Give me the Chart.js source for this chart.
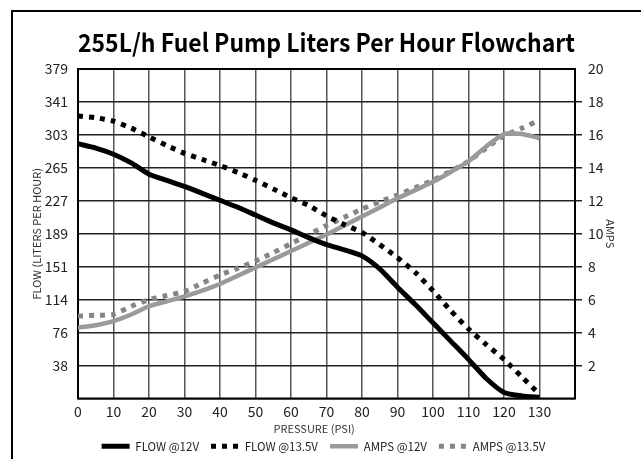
<!DOCTYPE html>
<html><head><meta charset="utf-8">
<script src="https://cdn.jsdelivr.net/npm/chart.js@4.4.1/dist/chart.umd.min.js"></script>
<style>html,body{margin:0;padding:0;background:#fff;overflow:hidden;}</style>
</head><body>
<canvas id="c" width="641" height="459"></canvas>
<script>
const titleText = '255L/h Fuel Pump Liters Per Hour Flowchart';
const pressure = [0,5,10,15,20,25,30,35,40,45,50,55,60,65,70,75,80,85,90,95,100,105,110,115,120,125,130];
const flow12  = [293,288,281,271,258,251,244,236,228,220,211,202,194,185,177,171,164,149,128,108,87,66,45,23,7,3,1.5];
const flow135 = [325,323,319,311,301,291,282,275,268,260,251,241,231,222,210,200,191,177,162,145,124,101,80,62,45,25,5];
const amps12  = [4.3,4.45,4.7,5.1,5.6,5.9,6.2,6.55,6.95,7.45,7.95,8.45,8.95,9.45,9.95,10.5,11.05,11.6,12.15,12.65,13.15,13.75,14.4,15.3,16.05,16.05,15.8];
const amps135 = [5.0,5.05,5.1,5.6,6.0,6.25,6.5,7.0,7.5,7.9,8.35,8.85,9.4,9.95,10.5,11.0,11.5,11.95,12.35,12.8,13.25,13.8,14.4,15.2,15.95,16.4,16.9];
const flowTickValues = [37.9,75.8,113.7,151.6,189.5,227.4,265.3,303.2,341.1,379];
const flowTickLabels = ['38','76','114','151','189','227','265','303','341','379'];
const seriesLabels = ['FLOW @12V','FLOW @13.5V','AMPS @12V','AMPS @13.5V'];

const FONT = '"Noto Sans CJK JP", "Noto Sans", sans-serif';
const pts = arr => pressure.map((p,i)=>({x:p,y:arr[i]}));

const framePlugin = {
  id:'frame',
  beforeDraw(chart){
    const c = chart.ctx; c.save();
    c.fillStyle = '#fff'; c.fillRect(0,0,chart.width,chart.height);
    c.strokeStyle = '#000'; c.lineWidth = 2;
    c.beginPath(); c.moveTo(12,chart.height); c.lineTo(12,11); c.lineTo(chart.width,11); c.stroke();
    c.restore();
  },
  beforeDatasetsDraw(chart){
    const a = chart.chartArea, c = chart.ctx; c.save();
    c.strokeStyle = '#000'; c.lineWidth = 2;
    c.strokeRect(a.left, a.top, a.right-a.left, a.bottom-a.top);
    c.restore();
  }
};

new Chart(document.getElementById('c'), {
  type:'line',
  data:{datasets:[
    {label:seriesLabels[0], data:pts(flow12), yAxisID:'y', borderColor:'#000', borderWidth:5, borderCapStyle:'butt'},
    {label:seriesLabels[1], data:pts(flow135), yAxisID:'y', borderColor:'#000', borderWidth:5, borderDash:[5,6], borderCapStyle:'butt'},
    {label:seriesLabels[2], data:pts(amps12), yAxisID:'y2', borderColor:'#9a9a9a', borderWidth:4.5, borderCapStyle:'butt'},
    {label:seriesLabels[3], data:pts(amps135), yAxisID:'y2', borderColor:'#858585', borderWidth:5, borderDash:[5,6], borderCapStyle:'butt'}
  ]},
  options:{
    responsive:false, animation:false, devicePixelRatio:1,
    layout:{padding:{left:30,right:24,top:0,bottom:-3}},
    elements:{point:{radius:0}, line:{tension:0.2, fill:false}},
    plugins:{
      title:{display:true, text:titleText, color:'#000', font:{family:FONT,size:25,weight:'bold'}, padding:{top:27,bottom:12}, fullSize:false},
      legend:{position:'bottom', labels:{usePointStyle:true, pointStyle:'line', pointStyleWidth:28, color:'#222', font:{family:FONT,size:11.5}, padding:12,
        generateLabels(chart){
          const items = Chart.defaults.plugins.legend.labels.generateLabels(chart);
          items.forEach((it,i)=>{
            const ds = chart.data.datasets[i];
            it.lineDash = ds.borderDash || [];
            it.lineWidth = ds.borderWidth;
            it.strokeStyle = ds.borderColor;
            it.lineCap = 'butt';
          });
          return items;
        }}},
      tooltip:{enabled:false}
    },
    scales:{
      x:{type:'linear', min:0, max:140,
        ticks:{stepSize:10, autoSkip:false, maxRotation:0, color:'#222', padding:5, font:{family:FONT,size:14}, callback:v=> v===140 ? '' : v},
        grid:{color:'#555', lineWidth:1.5, drawTicks:false},
        border:{display:false},
        title:{display:true, text:'PRESSURE (PSI)          ', color:'#333', font:{family:FONT,size:11}, padding:{top:0,bottom:-7}},
        afterFit:s=>{s.height=30;}
      },
      y:{type:'linear', position:'left', min:0, max:379,
        afterBuildTicks:s=>{s.ticks = flowTickValues.map(v=>({value:v}));},
        ticks:{color:'#222', padding:10, font:{family:FONT,size:14}, callback:(v,i)=>flowTickLabels[i]},
        grid:{display:false, drawTicks:false},
        border:{display:false},
        title:{display:true, text:'FLOW (LITERS PER HOUR)', color:'#333', font:{family:FONT,size:11}, padding:{top:0,bottom:3}},
        afterFit:s=>{s.width=48;}
      },
      y2:{type:'linear', position:'right', min:0, max:20,
        ticks:{stepSize:2, color:'#222', padding:6, font:{family:FONT,size:14}, callback:v=> v===0 ? '' : v},
        grid:{color:'#222', lineWidth:1.5, drawTicks:true, tickLength:7, drawOnChartArea:true,
          tickColor:ctx=> (ctx.tick && (ctx.tick.value===0 || ctx.tick.value===20)) ? 'rgba(0,0,0,0)' : '#222'},
        border:{display:false},
        title:{display:true, text:'AMPS', color:'#333', font:{family:FONT,size:11}, padding:{top:0,bottom:2}},
        afterFit:s=>{s.width=42;}
      }
    }
  },
  plugins:[framePlugin]
});
</script>
</body></html>
